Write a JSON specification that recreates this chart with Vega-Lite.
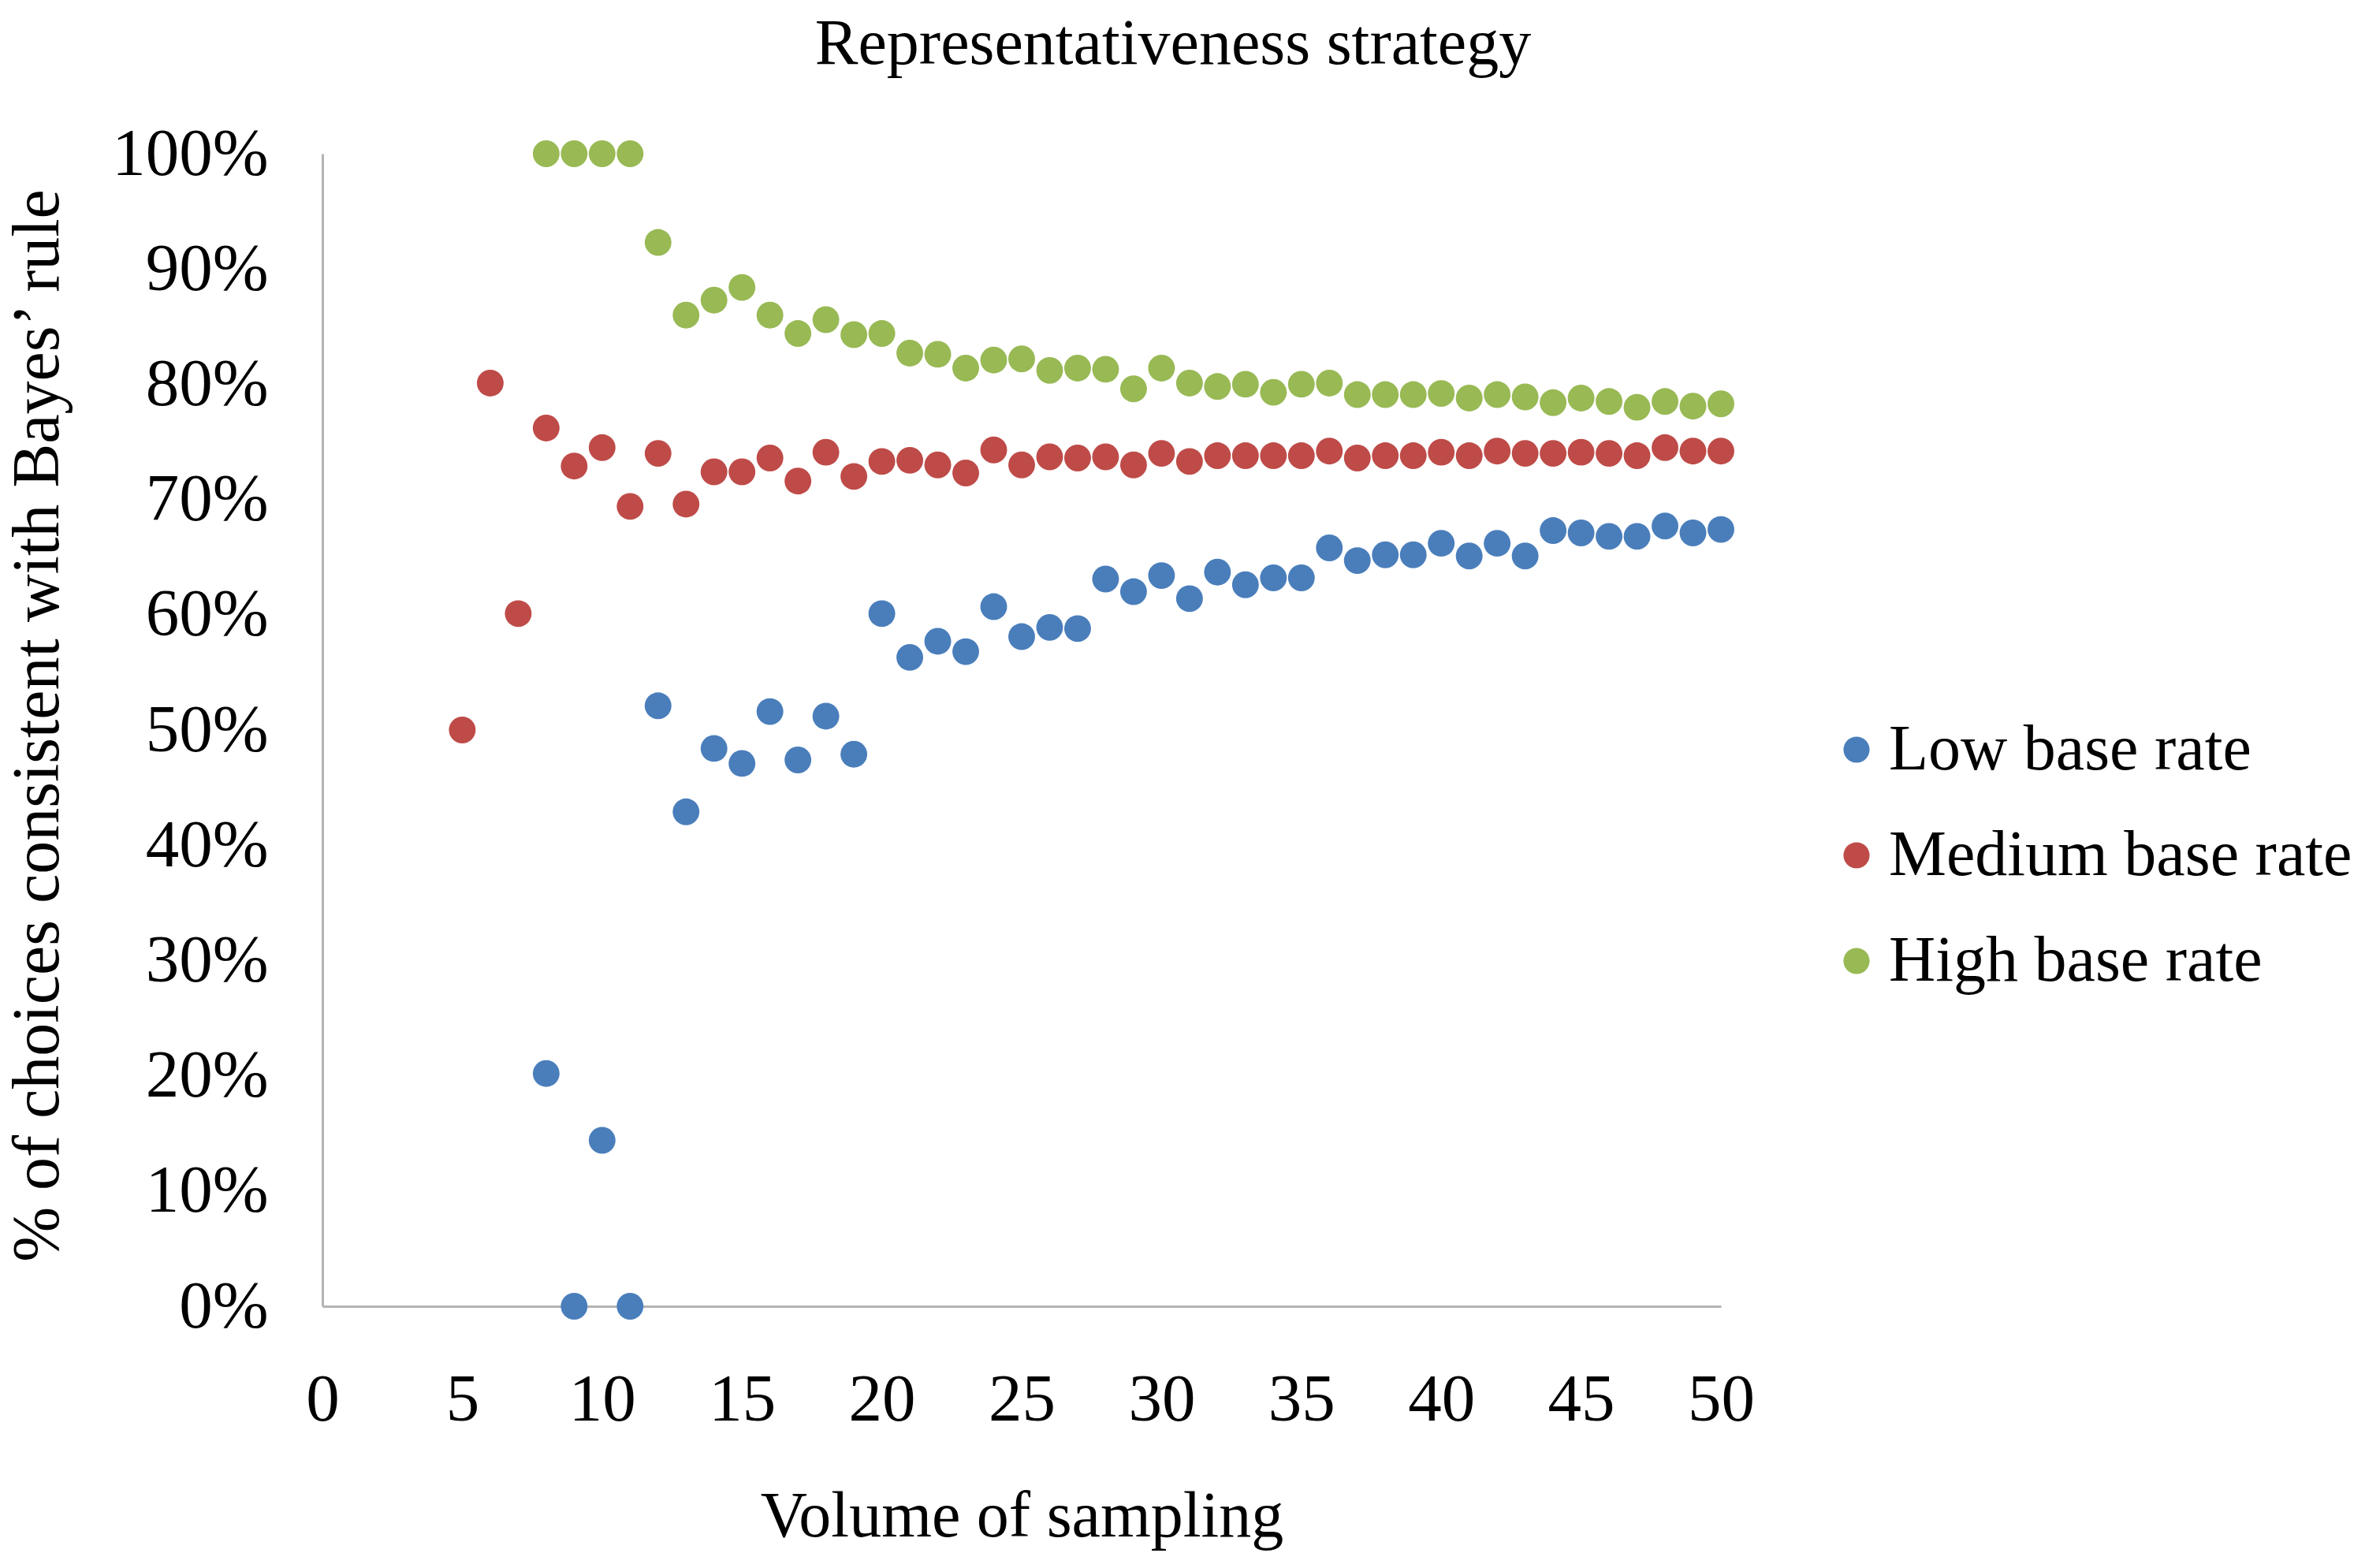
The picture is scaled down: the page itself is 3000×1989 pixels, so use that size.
{
  "$schema": "https://vega.github.io/schema/vega-lite/v6.json",
  "autosize": {"type": "none"},
  "width": 1774,
  "height": 1462,
  "padding": {"left": 409, "top": 195, "right": 817, "bottom": 332},
  "background": "white",
  "title": {
    "text": "Representativeness strategy",
    "font": "Liberation Serif",
    "fontSize": 82,
    "fontWeight": "normal",
    "color": "black",
    "frame": "group",
    "anchor": "middle",
    "baseline": "alphabetic",
    "dx": 192,
    "offset": -10
  },
  "data": {
    "values": [
      {"v": 8, "s": "Low base rate", "p": 0.202},
      {"v": 9, "s": "Low base rate", "p": 0.0},
      {"v": 10, "s": "Low base rate", "p": 0.144},
      {"v": 11, "s": "Low base rate", "p": 0.0},
      {"v": 12, "s": "Low base rate", "p": 0.521},
      {"v": 13, "s": "Low base rate", "p": 0.429},
      {"v": 14, "s": "Low base rate", "p": 0.484},
      {"v": 15, "s": "Low base rate", "p": 0.471},
      {"v": 16, "s": "Low base rate", "p": 0.516},
      {"v": 17, "s": "Low base rate", "p": 0.474},
      {"v": 18, "s": "Low base rate", "p": 0.512},
      {"v": 19, "s": "Low base rate", "p": 0.479},
      {"v": 20, "s": "Low base rate", "p": 0.601},
      {"v": 21, "s": "Low base rate", "p": 0.563},
      {"v": 22, "s": "Low base rate", "p": 0.577},
      {"v": 23, "s": "Low base rate", "p": 0.568},
      {"v": 24, "s": "Low base rate", "p": 0.607},
      {"v": 25, "s": "Low base rate", "p": 0.581},
      {"v": 26, "s": "Low base rate", "p": 0.589},
      {"v": 27, "s": "Low base rate", "p": 0.588},
      {"v": 28, "s": "Low base rate", "p": 0.631},
      {"v": 29, "s": "Low base rate", "p": 0.620},
      {"v": 30, "s": "Low base rate", "p": 0.634},
      {"v": 31, "s": "Low base rate", "p": 0.614},
      {"v": 32, "s": "Low base rate", "p": 0.637},
      {"v": 33, "s": "Low base rate", "p": 0.626},
      {"v": 34, "s": "Low base rate", "p": 0.632},
      {"v": 35, "s": "Low base rate", "p": 0.632},
      {"v": 36, "s": "Low base rate", "p": 0.658},
      {"v": 37, "s": "Low base rate", "p": 0.647},
      {"v": 38, "s": "Low base rate", "p": 0.652},
      {"v": 39, "s": "Low base rate", "p": 0.652},
      {"v": 40, "s": "Low base rate", "p": 0.662},
      {"v": 41, "s": "Low base rate", "p": 0.651},
      {"v": 42, "s": "Low base rate", "p": 0.662},
      {"v": 43, "s": "Low base rate", "p": 0.651},
      {"v": 44, "s": "Low base rate", "p": 0.673},
      {"v": 45, "s": "Low base rate", "p": 0.671},
      {"v": 46, "s": "Low base rate", "p": 0.668},
      {"v": 47, "s": "Low base rate", "p": 0.668},
      {"v": 48, "s": "Low base rate", "p": 0.677},
      {"v": 49, "s": "Low base rate", "p": 0.671},
      {"v": 50, "s": "Low base rate", "p": 0.674},
      {"v": 5, "s": "Medium base rate", "p": 0.500},
      {"v": 6, "s": "Medium base rate", "p": 0.801},
      {"v": 7, "s": "Medium base rate", "p": 0.601},
      {"v": 8, "s": "Medium base rate", "p": 0.762},
      {"v": 9, "s": "Medium base rate", "p": 0.729},
      {"v": 10, "s": "Medium base rate", "p": 0.745},
      {"v": 11, "s": "Medium base rate", "p": 0.694},
      {"v": 12, "s": "Medium base rate", "p": 0.740},
      {"v": 13, "s": "Medium base rate", "p": 0.696},
      {"v": 14, "s": "Medium base rate", "p": 0.724},
      {"v": 15, "s": "Medium base rate", "p": 0.724},
      {"v": 16, "s": "Medium base rate", "p": 0.736},
      {"v": 17, "s": "Medium base rate", "p": 0.716},
      {"v": 18, "s": "Medium base rate", "p": 0.741},
      {"v": 19, "s": "Medium base rate", "p": 0.720},
      {"v": 20, "s": "Medium base rate", "p": 0.733},
      {"v": 21, "s": "Medium base rate", "p": 0.734},
      {"v": 22, "s": "Medium base rate", "p": 0.730},
      {"v": 23, "s": "Medium base rate", "p": 0.723},
      {"v": 24, "s": "Medium base rate", "p": 0.743},
      {"v": 25, "s": "Medium base rate", "p": 0.730},
      {"v": 26, "s": "Medium base rate", "p": 0.737},
      {"v": 27, "s": "Medium base rate", "p": 0.736},
      {"v": 28, "s": "Medium base rate", "p": 0.737},
      {"v": 29, "s": "Medium base rate", "p": 0.730},
      {"v": 30, "s": "Medium base rate", "p": 0.740},
      {"v": 31, "s": "Medium base rate", "p": 0.733},
      {"v": 32, "s": "Medium base rate", "p": 0.738},
      {"v": 33, "s": "Medium base rate", "p": 0.738},
      {"v": 34, "s": "Medium base rate", "p": 0.738},
      {"v": 35, "s": "Medium base rate", "p": 0.738},
      {"v": 36, "s": "Medium base rate", "p": 0.742},
      {"v": 37, "s": "Medium base rate", "p": 0.736},
      {"v": 38, "s": "Medium base rate", "p": 0.738},
      {"v": 39, "s": "Medium base rate", "p": 0.738},
      {"v": 40, "s": "Medium base rate", "p": 0.741},
      {"v": 41, "s": "Medium base rate", "p": 0.738},
      {"v": 42, "s": "Medium base rate", "p": 0.742},
      {"v": 43, "s": "Medium base rate", "p": 0.740},
      {"v": 44, "s": "Medium base rate", "p": 0.740},
      {"v": 45, "s": "Medium base rate", "p": 0.741},
      {"v": 46, "s": "Medium base rate", "p": 0.740},
      {"v": 47, "s": "Medium base rate", "p": 0.738},
      {"v": 48, "s": "Medium base rate", "p": 0.745},
      {"v": 49, "s": "Medium base rate", "p": 0.742},
      {"v": 50, "s": "Medium base rate", "p": 0.742},
      {"v": 8, "s": "High base rate", "p": 1.0},
      {"v": 9, "s": "High base rate", "p": 1.0},
      {"v": 10, "s": "High base rate", "p": 1.0},
      {"v": 11, "s": "High base rate", "p": 1.0},
      {"v": 12, "s": "High base rate", "p": 0.923},
      {"v": 13, "s": "High base rate", "p": 0.860},
      {"v": 14, "s": "High base rate", "p": 0.873},
      {"v": 15, "s": "High base rate", "p": 0.884},
      {"v": 16, "s": "High base rate", "p": 0.860},
      {"v": 17, "s": "High base rate", "p": 0.844},
      {"v": 18, "s": "High base rate", "p": 0.856},
      {"v": 19, "s": "High base rate", "p": 0.843},
      {"v": 20, "s": "High base rate", "p": 0.844},
      {"v": 21, "s": "High base rate", "p": 0.827},
      {"v": 22, "s": "High base rate", "p": 0.826},
      {"v": 23, "s": "High base rate", "p": 0.814},
      {"v": 24, "s": "High base rate", "p": 0.821},
      {"v": 25, "s": "High base rate", "p": 0.822},
      {"v": 26, "s": "High base rate", "p": 0.812},
      {"v": 27, "s": "High base rate", "p": 0.814},
      {"v": 28, "s": "High base rate", "p": 0.813},
      {"v": 29, "s": "High base rate", "p": 0.796},
      {"v": 30, "s": "High base rate", "p": 0.814},
      {"v": 31, "s": "High base rate", "p": 0.801},
      {"v": 32, "s": "High base rate", "p": 0.798},
      {"v": 33, "s": "High base rate", "p": 0.800},
      {"v": 34, "s": "High base rate", "p": 0.793},
      {"v": 35, "s": "High base rate", "p": 0.800},
      {"v": 36, "s": "High base rate", "p": 0.801},
      {"v": 37, "s": "High base rate", "p": 0.791},
      {"v": 38, "s": "High base rate", "p": 0.791},
      {"v": 39, "s": "High base rate", "p": 0.791},
      {"v": 40, "s": "High base rate", "p": 0.792},
      {"v": 41, "s": "High base rate", "p": 0.788},
      {"v": 42, "s": "High base rate", "p": 0.791},
      {"v": 43, "s": "High base rate", "p": 0.789},
      {"v": 44, "s": "High base rate", "p": 0.784},
      {"v": 45, "s": "High base rate", "p": 0.788},
      {"v": 46, "s": "High base rate", "p": 0.785},
      {"v": 47, "s": "High base rate", "p": 0.780},
      {"v": 48, "s": "High base rate", "p": 0.785},
      {"v": 49, "s": "High base rate", "p": 0.781},
      {"v": 50, "s": "High base rate", "p": 0.783}
    ]
  },
  "mark": {"type": "circle", "size": 1150, "opacity": 1},
  "encoding": {
    "x": {
      "field": "v",
      "type": "quantitative",
      "scale": {"domain": [0, 50], "nice": false, "zero": true},
      "axis": {
        "title": "Volume of sampling",
        "values": [0, 5, 10, 15, 20, 25, 30, 35, 40, 45, 50],
        "grid": false,
        "ticks": false,
        "tickSize": 0,
        "domainColor": "#b3b3b3",
        "domainWidth": 3,
        "labelFont": "Liberation Serif",
        "labelFontSize": 85,
        "labelColor": "black",
        "labelPadding": 77,
        "labelFlush": false,
        "labelOverlap": false,
        "titleFont": "Liberation Serif",
        "titleFontSize": 82,
        "titleFontWeight": "normal",
        "titleColor": "black",
        "titleBaseline": "alphabetic",
        "titleY": 291
      }
    },
    "y": {
      "field": "p",
      "type": "quantitative",
      "scale": {"domain": [0, 1], "nice": false},
      "axis": {
        "title": "% of choices consistent with Bayes’ rule",
        "values": [0, 0.1, 0.2, 0.3, 0.4, 0.5, 0.6, 0.7, 0.8, 0.9, 1],
        "format": ".0%",
        "grid": false,
        "ticks": false,
        "tickSize": 0,
        "domainColor": "#b3b3b3",
        "domainWidth": 3,
        "labelFont": "Liberation Serif",
        "labelFontSize": 85,
        "labelColor": "black",
        "labelPadding": 69,
        "labelLimit": 600,
        "labelFlush": false,
        "labelOverlap": false,
        "titleFont": "Liberation Serif",
        "titleFontSize": 84,
        "titleFontWeight": "normal",
        "titleColor": "black",
        "titleAngle": -90,
        "titleBaseline": "middle",
        "titleLimit": 2000,
        "titleX": -361,
        "titleY": 725
      }
    },
    "color": {
      "field": "s",
      "type": "nominal",
      "scale": {
        "domain": ["Low base rate", "Medium base rate", "High base rate"],
        "range": ["#4a7ebb", "#be4b48", "#98b954"]
      },
      "legend": {
        "title": null,
        "orient": "none",
        "legendX": 1905,
        "legendY": 715,
        "symbolType": "circle",
        "symbolSize": 1100,
        "symbolOpacity": 1,
        "labelFont": "Liberation Serif",
        "labelFontSize": 82,
        "labelColor": "black",
        "labelOffset": 0,
        "labelLimit": 1000,
        "rowPadding": 52
      }
    }
  },
  "config": {
    "view": {"stroke": null}
  }
}
